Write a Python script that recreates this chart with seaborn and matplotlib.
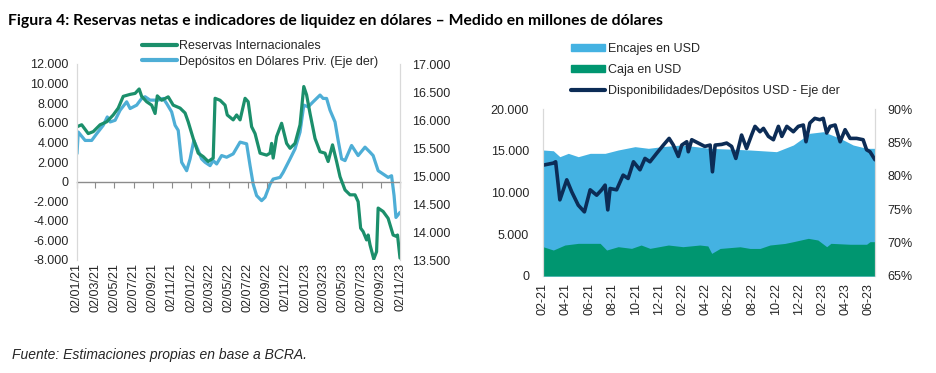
import pandas as pd
import numpy as np
import seaborn as sns
import matplotlib
matplotlib.use("Agg")
from matplotlib import pyplot as plt
import matplotlib.dates as mdates
from matplotlib.ticker import FuncFormatter, MultipleLocator
from matplotlib.lines import Line2D
from matplotlib.patches import Patch

# --- left panel: reservas netas (eje izq) y depositos privados en USD (eje der)
res_dates = [
    "2021-01-02", "2021-01-17", "2021-02-07", "2021-02-23", "2021-03-17", "2021-04-07",
    "2021-04-28", "2021-05-14", "2021-05-30", "2021-06-21", "2021-07-07", "2021-07-20",
    "2021-07-28", "2021-08-13", "2021-08-29", "2021-09-09", "2021-09-16", "2021-09-30",
    "2021-10-21", "2021-11-06", "2021-11-28", "2021-12-14", "2021-12-24", "2022-01-09",
    "2022-01-25", "2022-02-10", "2022-02-26", "2022-03-14", "2022-03-20", "2022-04-05",
    "2022-04-21", "2022-04-28", "2022-05-17", "2022-05-28", "2022-06-08", "2022-06-24",
    "2022-07-04", "2022-07-15", "2022-07-26", "2022-08-11", "2022-09-01", "2022-09-12",
    "2022-09-17", "2022-09-22", "2022-10-03", "2022-10-19", "2022-11-04", "2022-11-15",
    "2022-12-01", "2022-12-17", "2022-12-29", "2023-01-07", "2023-01-18", "2023-02-03",
    "2023-02-19", "2023-03-07", "2023-03-17", "2023-03-31", "2023-04-13", "2023-04-24",
    "2023-05-10", "2023-05-26", "2023-06-11", "2023-06-21", "2023-06-29", "2023-07-07",
    "2023-07-18", "2023-07-23", "2023-07-29", "2023-08-10", "2023-08-19", "2023-08-24",
    "2023-09-09", "2023-09-25", "2023-10-11", "2023-10-22", "2023-10-25", "2023-11-02",
]
reservas = [
    5600, 5800, 4900, 5100, 5800, 6100, 6800, 7500, 8700, 8900, 9000, 9450,
    8700, 8150, 7800, 6950, 8750, 8300, 8650, 7800, 7500, 7000, 6100, 4400,
    2900, 2550, 2050, 2400, 8500, 8300, 7800, 6800, 6300, 6800, 6300, 8500,
    8150, 5600, 4900, 2900, 2700, 2900, 3900, 2400, 4600, 5950, 3900, 3400,
    3900, 5800, 9700, 8850, 6950, 4400, 3050, 2900, 2050, 3750, 2050, 500,
    -850, -1350, -1350, -2050, -4750, -5100, -5950, -5450, -6450, -7900, -7150, -2700,
    -3050, -3750, -5450, -5600, -5450, -7800,
]
dep_dates = [
    "2021-01-02", "2021-01-06", "2021-01-28", "2021-02-18", "2021-03-06", "2021-03-27",
    "2021-04-09", "2021-04-18", "2021-05-04", "2021-05-20", "2021-06-10", "2021-06-21",
    "2021-07-12", "2021-07-28", "2021-08-08", "2021-08-24", "2021-09-19", "2021-10-05",
    "2021-10-16", "2021-11-01", "2021-11-12", "2021-11-22", "2021-12-03", "2021-12-19",
    "2021-12-30", "2022-01-11", "2022-01-25", "2022-02-05", "2022-02-16", "2022-03-04",
    "2022-03-14", "2022-03-25", "2022-04-10", "2022-04-26", "2022-05-17", "2022-06-08",
    "2022-06-29", "2022-07-10", "2022-07-20", "2022-07-31", "2022-08-16", "2022-08-27",
    "2022-09-12", "2022-09-22", "2022-10-14", "2022-10-24", "2022-11-04", "2022-11-15",
    "2022-12-01", "2022-12-17", "2022-12-29", "2023-01-12", "2023-01-28", "2023-02-19",
    "2023-03-01", "2023-03-12", "2023-03-23", "2023-04-08", "2023-04-18", "2023-04-29",
    "2023-05-10", "2023-05-31", "2023-06-21", "2023-07-13", "2023-07-29", "2023-08-08",
    "2023-08-24", "2023-09-09", "2023-09-25", "2023-10-06", "2023-10-14", "2023-10-20",
    "2023-11-02",
]
depositos = [
    15400, 15785, 15635, 15635, 15755, 15905, 16055, 15965, 15995, 16175, 16325, 16205,
    16265, 16385, 16415, 16355, 16355, 16385, 16295, 16145, 15905, 15815, 15245, 15095,
    15305, 15635, 15455, 15305, 15245, 15185, 15275, 15215, 15365, 15335, 15395, 15605,
    15575, 15185, 14855, 14650, 14560, 14620, 14855, 14945, 14975, 15065, 15185, 15305,
    15485, 15785, 16265, 16235, 16325, 16445, 16385, 16385, 16175, 15965, 15635, 15305,
    15275, 15545, 15365, 15515, 15425, 15365, 15095, 15035, 14975, 15005, 14650, 14260,
    14350,
]

# --- right panel: encajes, caja (eje izq) y disponibilidades/depositos (eje der)
enc_dates = [
    "2021-02-01", "2021-02-28", "2021-03-17", "2021-04-08", "2021-05-04", "2021-06-04",
    "2021-07-13", "2021-08-16", "2021-09-29", "2021-11-03", "2021-12-10", "2022-01-29",
    "2022-04-13", "2022-06-01", "2022-07-26", "2022-10-03", "2022-11-16", "2022-12-29",
    "2023-02-02", "2023-03-18", "2023-04-21", "2023-05-26", "2023-06-17",
]
encajes = [
    15090, 15000, 14290, 14690, 14290, 14690, 14690, 15090, 15490, 15290, 15500, 15690,
    15290, 15200, 15090, 14890, 15690, 17090, 17280, 16490, 15690, 15290, 15290,
]
caja_dates = [
    "2021-02-01", "2021-02-28", "2021-03-30", "2021-05-04", "2021-06-30", "2021-07-17",
    "2021-08-16", "2021-09-20", "2021-10-15", "2021-11-07", "2021-12-25", "2022-02-01",
    "2022-03-17", "2022-04-07", "2022-04-17", "2022-05-09", "2022-06-30", "2022-07-26",
    "2022-08-21", "2022-09-16", "2022-10-25", "2022-11-16", "2022-12-25", "2023-01-19",
    "2023-02-11", "2023-02-22", "2023-04-13", "2023-05-26", "2023-06-04", "2023-06-17",
]
caja = [
    3510, 3110, 3710, 3910, 3910, 3110, 3510, 3310, 3710, 3310, 3710, 3510,
    3710, 3600, 2710, 3300, 3500, 3300, 3300, 3710, 3900, 4110, 4510, 4310,
    3510, 3910, 3800, 3800, 4110, 4110,
]
disp_dates = [
    "2021-02-02", "2021-02-28", "2021-03-06", "2021-03-17", "2021-04-04", "2021-04-17",
    "2021-05-04", "2021-05-20", "2021-06-04", "2021-06-21", "2021-07-04", "2021-07-13",
    "2021-07-20", "2021-07-26", "2021-08-12", "2021-08-29", "2021-09-11", "2021-09-25",
    "2021-10-12", "2021-10-25", "2021-11-07", "2021-11-25", "2021-12-12", "2021-12-27",
    "2022-01-07", "2022-01-20", "2022-01-29", "2022-02-11", "2022-02-15", "2022-02-24",
    "2022-03-13", "2022-03-30", "2022-04-13", "2022-04-19", "2022-04-26", "2022-05-13",
    "2022-05-26", "2022-06-08", "2022-06-19", "2022-07-04", "2022-07-17", "2022-07-30",
    "2022-08-08", "2022-08-21", "2022-08-30", "2022-09-12", "2022-09-25", "2022-10-08",
    "2022-10-17", "2022-10-30", "2022-11-16", "2022-11-29", "2022-12-12", "2022-12-19",
    "2022-12-29", "2023-01-11", "2023-01-24", "2023-02-02", "2023-02-11", "2023-02-20",
    "2023-03-05", "2023-03-18", "2023-03-31", "2023-04-13", "2023-04-30", "2023-05-17",
    "2023-05-26", "2023-06-04", "2023-06-17",
]
disp_pct = [
    81.6, 81.9, 82.1, 76.4, 79.4, 77.6, 75.6, 74.6, 77.9, 77.1, 77.9, 78.6,
    74.9, 78.1, 77.9, 80.1, 79.6, 82.1, 80.9, 82.6, 82.1, 83.4, 84.6, 85.6,
    84.6, 82.9, 84.6, 85.1, 83.6, 85.4, 84.9, 84.4, 84.6, 80.6, 84.6, 84.7,
    84.9, 84.4, 82.6, 86.1, 84.1, 86.1, 87.4, 86.6, 87.1, 85.9, 85.4, 87.4,
    85.9, 87.4, 86.6, 87.4, 87.6, 85.1, 87.9, 88.6, 88.4, 88.6, 86.4, 87.4,
    87.6, 85.1, 86.9, 85.6, 85.6, 85.4, 83.9, 83.6, 82.4,
]

GREEN = "#1b8f6b"
LBLUE = "#4eaed6"
AREA_BLUE = "#44b2e2"
AREA_GREEN = "#009670"
NAVY = "#0c2c56"
TXT = "#262626"
GRID = "#d9d9d9"

sns.set_style("white")
plt.rcParams["font.family"] = ["Liberation Sans", "DejaVu Sans"]
plt.rcParams["font.size"] = 9

df_res = pd.DataFrame({"fecha": pd.to_datetime(res_dates), "valor": reservas})
df_dep = pd.DataFrame({"fecha": pd.to_datetime(dep_dates), "valor": depositos})
df_enc = pd.DataFrame({"fecha": pd.to_datetime(enc_dates), "valor": encajes})
df_caja = pd.DataFrame({"fecha": pd.to_datetime(caja_dates), "valor": caja})
df_disp = pd.DataFrame({"fecha": pd.to_datetime(disp_dates), "valor": disp_pct})

miles = FuncFormatter(lambda v, p: f"{v:,.0f}".replace(",", "."))

fig = plt.figure(figsize=(9.37, 3.73), dpi=100)

# ---------------- left panel
ax1 = fig.add_axes([77 / 937, 1 - 260 / 373, 323 / 937, 196 / 373])
ax1b = ax1.twinx()
sns.lineplot(data=df_dep, x="fecha", y="valor", ax=ax1b, color=LBLUE, lw=2.3)
sns.lineplot(data=df_res, x="fecha", y="valor", ax=ax1, color=GREEN, lw=2.3)
ax1.set_zorder(ax1b.get_zorder() + 1)
ax1.patch.set_visible(False)

ax1.set_ylim(-8000, 12000)
ax1.yaxis.set_major_locator(MultipleLocator(2000))
ax1.yaxis.set_major_formatter(miles)
ax1b.set_ylim(13500, 17000)
ax1b.yaxis.set_major_locator(MultipleLocator(500))
ax1b.yaxis.set_major_formatter(miles)
ax1.set_xlim(pd.Timestamp("2021-01-02"), pd.Timestamp("2023-11-02"))
ax1.xaxis.set_major_locator(mdates.MonthLocator(bymonth=range(1, 13, 2), bymonthday=2))
ax1.xaxis.set_major_formatter(mdates.DateFormatter("%d/%m/%y"))
ax1.tick_params(axis="x", length=0, pad=2, rotation=90, colors=TXT, labelsize=9)
ax1.tick_params(axis="y", length=0, pad=6, colors=TXT, labelsize=9)
ax1b.tick_params(axis="y", length=0, pad=9, colors=TXT, labelsize=9)
for a in (ax1, ax1b):
    a.set_xlabel("")
    a.set_ylabel("")
    for s in ("top", "bottom"):
        a.spines[s].set_visible(False)
    a.spines["left"].set_color(GRID)
    a.spines["right"].set_color(GRID)

# zero line with tick marks
zero = ax1.secondary_xaxis(0.4)
zero.xaxis.set_major_locator(mdates.MonthLocator(bymonth=range(1, 13, 2), bymonthday=2))
zero.tick_params(axis="x", length=4, width=0.8, color="#8c8c8c", labelbottom=False)
zero.spines["bottom"].set_color("#8c8c8c")
zero.spines["bottom"].set_linewidth(1.0)

fig.legend(
    handles=[Line2D([], [], color=GREEN, lw=3), Line2D([], [], color=LBLUE, lw=3)],
    labels=["Reservas Internacionales", "Depósitos en Dólares Priv. (Eje der)"],
    loc="upper left", bbox_to_anchor=(142 / 937, 1 - 40 / 373), frameon=False,
    fontsize=9, handlelength=2.8, handletextpad=0.2, labelspacing=0.3,
    borderpad=0, borderaxespad=0, labelcolor=TXT,
)

# ---------------- right panel
ax2 = fig.add_axes([543 / 937, 1 - 276 / 373, 332 / 937, 167 / 373])
ax2b = ax2.twinx()
ax2.fill_between(df_enc["fecha"], 0, df_enc["valor"], color=AREA_BLUE, lw=0)
ax2.fill_between(df_caja["fecha"], 0, df_caja["valor"], color=AREA_GREEN, lw=0)
sns.lineplot(data=df_disp, x="fecha", y="valor", ax=ax2b, color=NAVY, lw=2.6)

ax2.set_ylim(0, 20000)
ax2.yaxis.set_major_locator(MultipleLocator(5000))
ax2.yaxis.set_major_formatter(miles)
ax2b.set_ylim(65, 90)
ax2b.yaxis.set_major_locator(MultipleLocator(5))
ax2b.yaxis.set_major_formatter(FuncFormatter(lambda v, p: f"{v:.0f}%"))
ax2.set_xlim(pd.Timestamp("2021-02-01"), pd.Timestamp("2023-06-17"))
ax2.xaxis.set_major_locator(mdates.MonthLocator(bymonth=range(2, 13, 2), bymonthday=1))
ax2.xaxis.set_major_formatter(mdates.DateFormatter("%m-%y"))
ax2.tick_params(axis="x", length=0, pad=5, rotation=90, colors=TXT, labelsize=9)
ax2.tick_params(axis="y", length=0, pad=10, colors=TXT, labelsize=9)
ax2b.tick_params(axis="y", length=0, pad=9, colors=TXT, labelsize=9)
for a in (ax2, ax2b):
    a.set_xlabel("")
    a.set_ylabel("")
    for s in ("top", "bottom"):
        a.spines[s].set_visible(False)
    a.spines["left"].set_color(GRID)
    a.spines["right"].set_color(GRID)

fig.legend(
    handles=[Patch(color=AREA_BLUE), Patch(color=AREA_GREEN), Line2D([], [], color=NAVY, lw=3)],
    labels=["Encajes en USD", "Caja en USD", "Disponibilidades/Depósitos USD - Eje der"],
    loc="upper left", bbox_to_anchor=(571 / 937, 1 - 43 / 373), frameon=False,
    fontsize=9, handlelength=2.7, handleheight=0.5, handletextpad=0.25, labelspacing=0.72,
    borderpad=0, borderaxespad=0, labelcolor=TXT,
)

fig.text(8 / 937, 1 - 21 / 373,
         "Figura 4: Reservas netas e indicadores de liquidez en dólares – Medido en millones de dólares",
         fontsize=11.3, fontweight="bold", family=["Lato", "DejaVu Sans"],
         color="black", va="center", ha="left")
fig.text(12 / 937, 1 - 355 / 373, "Fuente: Estimaciones propias en base a BCRA.",
         fontsize=10, style="italic", color=TXT, va="center", ha="left")

fig.savefig("out.png", dpi=100)
